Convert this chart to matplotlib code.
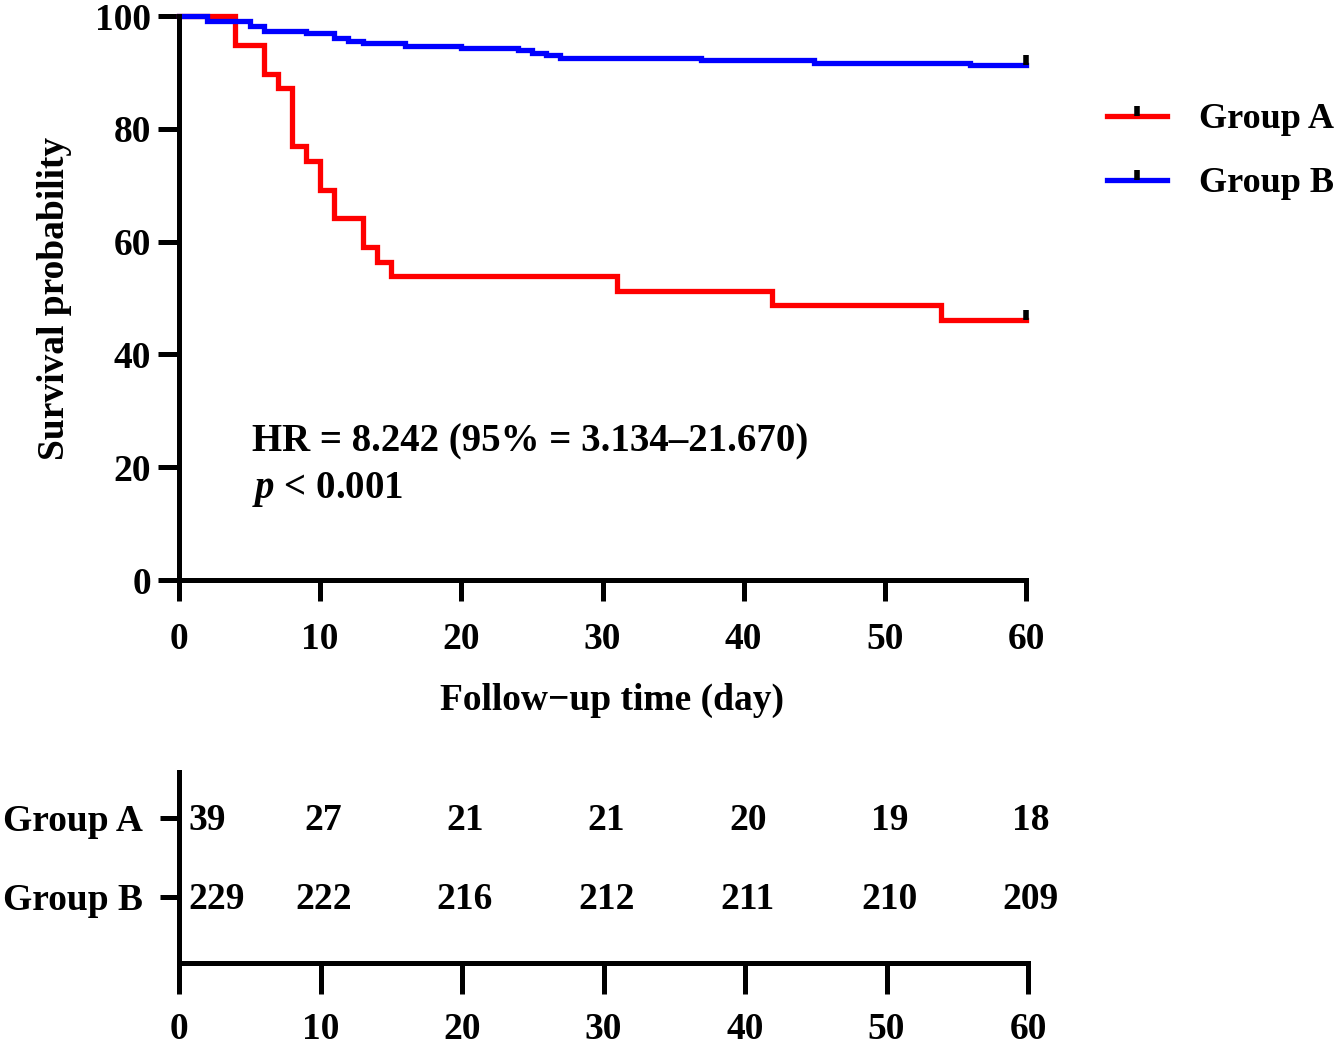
import numpy as np
import matplotlib
matplotlib.use('Agg')
import matplotlib.pyplot as plt
from matplotlib.lines import Line2D
from matplotlib.transforms import offset_copy

plt.rcParams['font.family'] = ['Liberation Serif', 'DejaVu Serif']
plt.rcParams['font.weight'] = 'bold'
plt.rcParams['font.size'] = 27
plt.rcParams['mathtext.fontset'] = 'custom'
plt.rcParams['mathtext.it'] = 'Liberation Serif:italic:bold'
plt.rcParams['mathtext.rm'] = 'Liberation Serif:bold'

# Kaplan-Meier steps (percent)
time_a = [0, 4, 6, 7, 8, 9, 10, 11, 13, 14, 15, 31, 42, 54, 60]
surv_a = [100, 94.87, 89.74, 87.18, 76.92, 74.36, 69.23, 64.10, 58.97,
          56.41, 53.85, 51.28, 48.72, 46.15, 46.15]

time_b = [0, 2, 5, 6, 9, 11, 12, 13, 16, 20, 24, 25, 26, 27, 37, 45, 56, 60]
surv_b = [100, 99.13, 98.25, 97.38, 96.94, 96.07, 95.63, 95.20, 94.76,
          94.32, 93.89, 93.45, 93.01, 92.58, 92.14, 91.70, 91.27, 91.27]

groups = ['Group A', 'Group B']
colors = ['#ff0000', '#0000ff']

risk_times = [0, 10, 20, 30, 40, 50, 60]
risk_a = [39, 27, 21, 21, 20, 19, 18]
risk_b = [229, 222, 216, 212, 211, 210, 209]

hr_text = 'HR = 8.242 (95% = 3.134\u201321.670)'
p_text = r'$p$ < 0.001'

W, H = 1342, 1045
fig = plt.figure(figsize=(W / 100, H / 100), dpi=100)

lw = 3.8
spw = 3.6
fs = 27
censor = [(0, 0), (0, 1)]

ax = fig.add_axes([179 / W, 1 - 580 / H, (1026 - 179) / W, (580 - 16) / H])
ax.step(time_a, surv_a, where='post', color=colors[0], lw=lw, clip_on=False,
        solid_joinstyle='miter')
ax.step(time_b, surv_b, where='post', color=colors[1], lw=lw, clip_on=False,
        solid_joinstyle='miter')
for t, s in [(time_a, surv_a), (time_b, surv_b)]:
    ax.plot(t[-1:], s[-1:], ls='none', marker=censor, ms=15, mew=4,
            mec='black', clip_on=False, zorder=5)

ax.set_xlim(0, 60)
ax.set_ylim(0, 100)
ax.set_xticks(np.arange(0, 61, 10))
ax.set_yticks(np.arange(0, 101, 20))
for side in ['top', 'right']:
    ax.spines[side].set_visible(False)
for side in ['left', 'bottom']:
    ax.spines[side].set_linewidth(spw)
ax.tick_params(direction='out', length=15, width=spw, labelsize=fs)
ax.tick_params(axis='y', pad=5)
ax.tick_params(axis='x', pad=15)
ax.set_ylabel('Survival probability', fontsize=fs, fontweight='bold')
ax.yaxis.set_label_coords(-0.126, 0.5)
ax.set_xlabel('Follow\u2212up time (day)', fontsize=fs, fontweight='bold')
ax.xaxis.set_label_coords(0.511, -0.182)

ax.text(5.2, 24.4, hr_text, va='center', ha='left', fontsize=28, fontweight='bold')
ax.text(5.2, 16.0, p_text, va='center', ha='left', fontsize=28, fontweight='bold')

handles = [Line2D([], [], color=c, lw=lw, marker=censor, ms=15, mew=4, mec='black')
           for c in colors]
fig.legend(handles, groups, loc='upper left', bbox_to_anchor=(1107 / W, 1 - 103 / H),
           bbox_transform=fig.transFigure, frameon=False, handlelength=1.66,
           handletextpad=0.9, labelspacing=0.85, borderpad=0, borderaxespad=0,
           numpoints=1, prop={'family': 'Liberation Serif', 'weight': 'bold', 'size': 26})

# number at risk table
rax = fig.add_axes([179 / W, 1 - 963 / H, (1028 - 179) / W, (963 - 772) / H])
rax.set_xlim(0, 60)
rax.set_ylim(-0.84, 1.58)
rax.set_xticks(risk_times)
rax.set_yticks([1, 0])
rax.set_yticklabels(groups)
for side in ['top', 'right']:
    rax.spines[side].set_visible(False)
for side in ['left', 'bottom']:
    rax.spines[side].set_linewidth(spw)
rax.tick_params(direction='out', width=spw, labelsize=fs)
rax.tick_params(axis='y', length=14, pad=12)
rax.tick_params(axis='x', length=22, pad=13)

for row, vals in [(1, risk_a), (0, risk_b)]:
    for t, n in zip(risk_times, vals):
        if t == 0:
            tr = offset_copy(rax.transData, fig=fig, x=7, y=-2, units='points')
            rax.text(t, row, str(n), ha='left', va='center', transform=tr,
                     fontsize=fs, fontweight='bold')
        else:
            tr = offset_copy(rax.transData, fig=fig, x=2, y=-2, units='points')
            rax.text(t, row, str(n), ha='center', va='center', transform=tr,
                     fontsize=fs, fontweight='bold')

fig.savefig('out.png', dpi=100)
